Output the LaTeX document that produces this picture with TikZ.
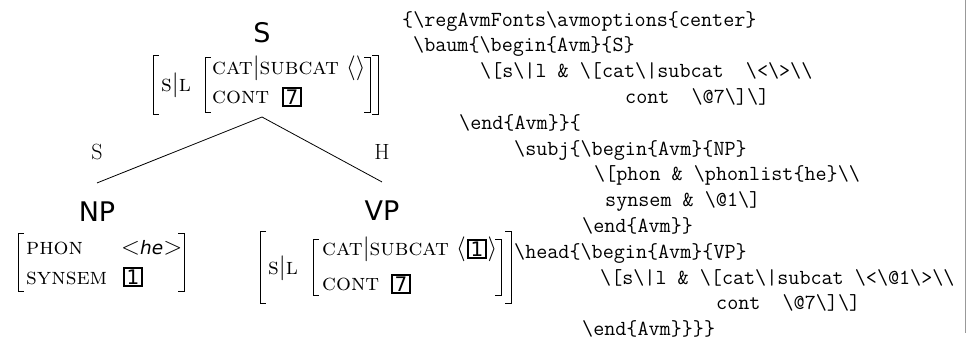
\documentclass[tikz,border=0pt]{standalone}
\usepackage{fontspec}
\newfontfamily\labelfont{DejaVu Sans}
\newcommand\bsl{\textbackslash}
\begin{document}
\begin{tikzpicture}[x=1pt,y=-1pt,
  catlabel/.style={font=\labelfont\fontsize{27}{30}\selectfont, inner sep=0pt},
  attr/.style={font=\fontsize{23.5}{28}\selectfont, inner sep=0pt, anchor=base west},
  tagbox/.style={draw, line width=1.8pt, inner sep=0pt, minimum size=18.5pt,
    font=\labelfont\fontsize{20}{22}\selectfont},
  brk/.style={line width=0.9pt},
  edgelabel/.style={font=\fontsize{22}{26}\selectfont, inner sep=0pt},
  code/.style={font=\ttfamily\fontsize{21.5}{25.8}\selectfont, inner sep=0pt, anchor=base west},
  branch/.style={line width=0.8pt},
  frame/.style={draw=black!40, line width=1pt}]
\useasboundingbox (0,0) rectangle (966,343);

% ---------- tree: mother node S ----------
\node[catlabel] (S) at (262,33) {S};
\draw[brk] (159,55) -- (153,55) -- (153,114) -- (159,114);
\node[attr] (sSL) at (161,91) {\textsc{s}$|$\textsc{l}};
\draw[brk] (211,57) -- (205,57) -- (205,112) -- (211,112);
\node[attr] (sCat) at (212,74) {\textsc{cat}$|$\textsc{subcat} $\langle\rangle$};
\node[attr] (sCont) at (212,103) {\textsc{cont}};
\node[tagbox] (sTag) at (292,97) {7};
\draw[brk] (364,57) -- (370,57) -- (370,112) -- (364,112);
\draw[brk] (372,55) -- (378,55) -- (378,114) -- (372,114);
\coordinate (apex) at (262,117);

% ---------- subject daughter NP ----------
\node[catlabel] (NP) at (97,212) {NP};
\draw[brk] (24,233) -- (18,233) -- (18,291) -- (24,291);
\node[attr] (phon) at (26,254) {\textsc{phon}};
\node[attr] (he) at (121,254) {$<${\labelfont\itshape\fontsize{18.5}{22}\selectfont he}$>$};
\node[attr] (synsem) at (26,284) {\textsc{synsem}};
\node[tagbox] (npTag) at (133,277) {1};
\draw[brk] (178,233) -- (184,233) -- (184,291) -- (178,291);

% ---------- head daughter VP ----------
\node[catlabel] (VP) at (382,211) {VP};
\draw[brk] (266,231) -- (260,231) -- (260,303) -- (266,303);
\node[attr] (vSL) at (268,274) {\textsc{s}$|$\textsc{l}};
\draw[brk] (319,239) -- (313,239) -- (313,295) -- (319,295);
\node[attr] (vCat) at (322,255) {\textsc{cat}$|$\textsc{subcat} $\langle$};
\node[tagbox] (vpTagA) at (477,249) {1};
\node[attr] (vClose) at (487.5,255) {$\rangle$};
\node[attr] (vCont) at (322,290) {\textsc{cont}};
\node[tagbox] (vpTagB) at (401,284) {7};
\draw[brk] (495,239) -- (501,239) -- (501,295) -- (495,295);
\draw[brk] (505,231) -- (511,231) -- (511,303) -- (505,303);

% ---------- branches and their labels ----------
\draw[branch] (apex) -- ([yshift=19pt]NP.north);
\draw[branch] (apex) -- ([yshift=19pt]VP.north);
\node[edgelabel] (subjLabel) at (97,152) {S};
\node[edgelabel] (headLabel) at (382,152) {H};

% ---------- source listing ----------
\node[code] (c1)  at (402,26)    {\{\bsl regAvmFonts\bsl avmoptions\{center\}};
\node[code] (c2)  at (413,51.8)  {\bsl baum\{\bsl begin\{Avm\}\{S\}};
\node[code] (c3)  at (480,77.6)  {\bsl[s\bsl|l~\&~\bsl[cat\bsl|subcat~~\bsl<\bsl>\bsl\bsl};
\node[code] (c4)  at (625,103.4) {cont~~\bsl@7\bsl]\bsl]};
\node[code] (c5)  at (459,129.2) {\bsl end\{Avm\}\}\{};
\node[code] (c6)  at (514,155)   {\bsl subj\{\bsl begin\{Avm\}\{NP\}};
\node[code] (c7)  at (594,180.8) {\bsl[phon~\&~\bsl phonlist\{he\}\bsl\bsl};
\node[code] (c8)  at (605,206.6) {synsem~\&~\bsl@1\bsl]};
\node[code] (c9)  at (582,232.4) {\bsl end\{Avm\}\}};
\node[code] (c10) at (514,258.2) {\bsl head\{\bsl begin\{Avm\}\{VP\}};
\node[code] (c11) at (600,284)   {\bsl[s\bsl|l~\&~\bsl[cat\bsl|subcat~\bsl<\bsl@1\bsl>\bsl\bsl};
\node[code] (c12) at (716,309.8) {cont~~\bsl@7\bsl]\bsl]};
\node[code] (c13) at (582,335.6) {\bsl end\{Avm\}\}\}\}};

% ---------- right margin rule ----------
\coordinate (ruleTop) at (965,0);
\coordinate (ruleBot) at (965,333);
\draw[frame] (ruleTop) -- (ruleBot);
\end{tikzpicture}
\end{document}
